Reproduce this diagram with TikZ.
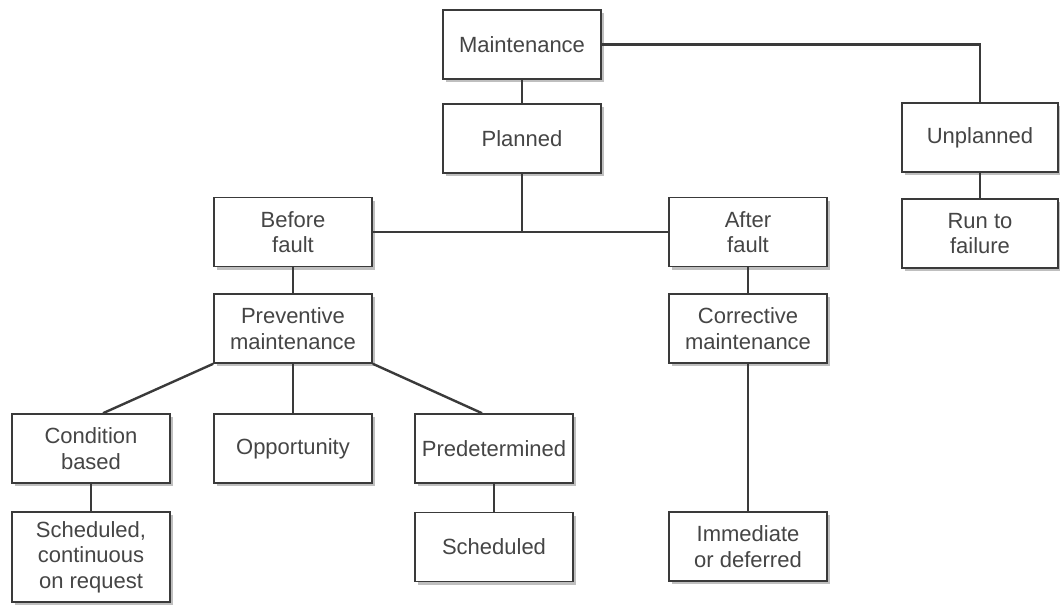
\documentclass[tikz,border=0pt]{standalone}
\usepackage{fontspec}
\setmainfont{Liberation Sans}
\usetikzlibrary{shadows}
\definecolor{edge}{HTML}{3A3A3A}
\definecolor{txt}{HTML}{454545}
\tikzset{
  box/.style={draw=edge, line width=1.6pt, fill=white, minimum width=158pt, minimum height=69pt,
    inner sep=2pt, align=center, text=txt, font=\fontsize{22}{25.5}\selectfont,
    drop shadow={shadow xshift=3pt, shadow yshift=-3pt, fill=black!25, opacity=1}},
  link/.style={draw=edge, line width=2.4pt}
}
\begin{document}
\begin{tikzpicture}[x=1pt,y=-1pt]
\useasboundingbox (0,0) rectangle (1060,605);
\node[box] (maint) at (522,44.5) {Maintenance};
\node[box] (planned) at (522,138.5) {Planned};
\node[box, minimum width=156pt] (unpl) at (980,137.5) {Unplanned};
\node[box, minimum width=156pt] (run) at (980,233.5) {Run to\\failure};
\node[box] (before) at (293,232) {Before\\fault};
\node[box] (after) at (748,232) {After\\fault};
\node[box] (prev) at (293,328.5) {Preventive\\maintenance};
\node[box] (corr) at (748,328.5) {Corrective\\maintenance};
\node[box] (cond) at (91,448.5) {Condition\\based};
\node[box] (opp) at (293,448.5) {Opportunity};
\node[box] (pred) at (494,448.5) {Predetermined};
\node[box, minimum height=90pt] (schedc) at (91,557) {Scheduled,\\continuous\\on request};
\node[box] (sched) at (494,547) {Scheduled};
\node[box] (immed) at (748,546.5) {Immediate\\or deferred};
\draw[link] (maint.east) -| (unpl.north);
\draw[link] (maint.south) -- (planned.north);
\draw[link] (unpl.south) -- (run.north);
\draw[link] (before.east) -- (after.west);
\draw[link] (planned.south) -- (planned.south |- before.east);
\draw[link] (before.south) -- (prev.north);
\draw[link] (after.south) -- (corr.north);
\draw[link] (prev.south west) -- ([xshift=12pt]cond.north);
\draw[link] (prev.south) -- (opp.north);
\draw[link] (prev.south east) -- ([xshift=-12pt]pred.north);
\draw[link] (cond.south) -- (schedc.north);
\draw[link] (pred.south) -- (sched.north);
\draw[link] (corr.south) -- (immed.north);
\end{tikzpicture}
\end{document}
